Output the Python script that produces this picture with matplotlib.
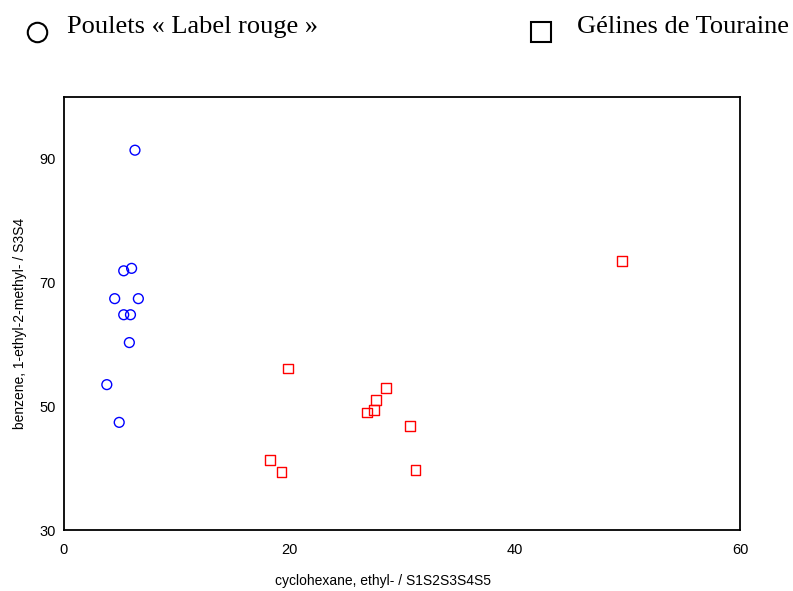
from matplotlib import pyplot as plt
from matplotlib.lines import Line2D

# data
poulets_x = [6.3, 6.0, 5.3, 4.5, 6.6, 5.3, 5.9, 5.8, 3.8, 4.9]
poulets_y = [91.4, 72.3, 71.9, 67.4, 67.4, 64.8, 64.8, 60.3, 53.5, 47.4]

gelines_x = [49.5, 19.9, 28.6, 27.7, 27.5, 26.9, 30.7, 18.3, 19.3, 31.2]
gelines_y = [73.5, 56.1, 52.9, 51.0, 49.4, 49.0, 46.8, 41.3, 39.4, 39.7]

legend_labels = ['Poulets « Label rouge »', 'Gélines de Touraine']
x_ticks = [0, 20, 40, 60]
y_ticks = [30, 50, 70, 90]

fig = plt.figure(figsize=(7.93, 5.91), dpi=100)
fig.patch.set_facecolor('white')
ax = fig.add_axes([64 / 793, 1 - 530 / 591, 676 / 793, 433 / 591])

ax.scatter(poulets_x, poulets_y, marker='o', s=50, facecolors='none',
           edgecolors='#0000ff', linewidths=1.0, zorder=3)
ax.scatter(gelines_x, gelines_y, marker='s', s=50, facecolors='none',
           edgecolors='#ff0000', linewidths=1.0, zorder=3)

ax.set_xlim(0, 60)
ax.set_ylim(30, 100)
ax.set_xticks(x_ticks)
ax.set_yticks(y_ticks)
ax.tick_params(length=0, labelsize=10.5)
ax.tick_params(axis='x', pad=9)
ax.tick_params(axis='y', pad=6)
for lab in ax.get_xticklabels() + ax.get_yticklabels():
    lab.set_family('Liberation Sans')
for s in ax.spines.values():
    s.set_linewidth(1.3)
    s.set_color('black')

ax.set_xlabel('cyclohexane, ethyl- / S1S2S3S4S5', fontsize=10,
              family='Liberation Sans')
ax.set_ylabel('benzene, 1-ethyl-2-methyl- / S3S4', fontsize=10,
              family='Liberation Sans')
ax.xaxis.set_label_coords(0.472, -0.102)
ax.yaxis.set_label_coords(-0.054, 0.476)

# legend drawn at the top of the figure
fig.add_artist(Line2D([37 / 793], [1 - 32 / 591], marker='o', markersize=14,
                      markerfacecolor='none', markeredgecolor='black',
                      markeredgewidth=1.5, transform=fig.transFigure))
fig.text(67 / 793, 1 - 27 / 591, legend_labels[0], fontsize=19,
         family='Liberation Serif', va='center', ha='left')
fig.add_artist(Line2D([541 / 793], [1 - 32 / 591], marker='s', markersize=14,
                      markerfacecolor='none', markeredgecolor='black',
                      markeredgewidth=1.5, transform=fig.transFigure))
fig.text(577 / 793, 1 - 27 / 591, legend_labels[1], fontsize=19,
         family='Liberation Serif', va='center', ha='left')

fig.savefig('out.png', dpi=100)
